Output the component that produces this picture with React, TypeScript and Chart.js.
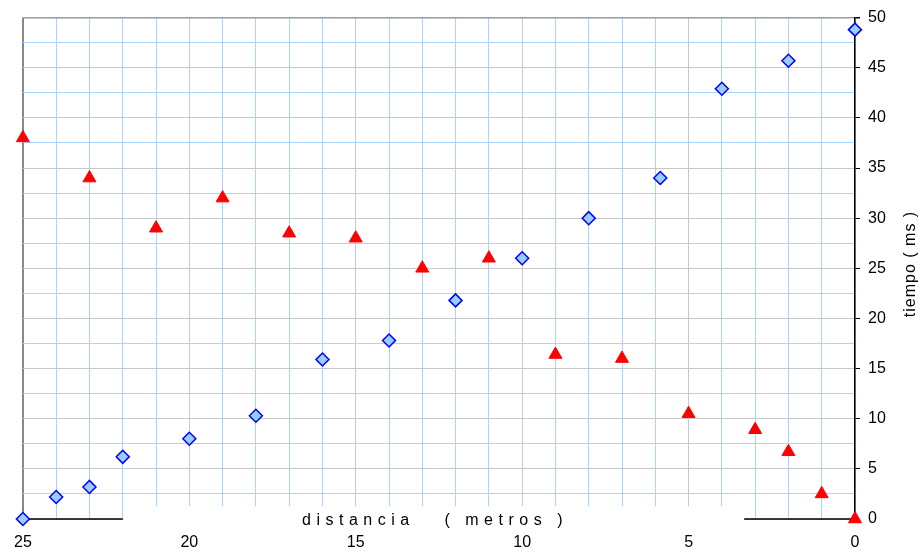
import React, { useEffect, useRef } from "react";
import { Chart, registerables } from "chart.js";

Chart.register(...registerables);

const blueX = [25, 24, 23, 22, 20, 18, 16, 14, 12, 10, 8, 5.85, 4, 2, 0];
const blueY = [0, 2.2, 3.2, 6.2, 8, 10.3, 15.9, 17.8, 21.8, 26, 30, 34, 42.9, 45.7, 48.8];
const redX = [25, 23, 21, 19, 17, 15, 13, 11, 9, 7, 5, 3, 2, 1, 0];
const redY = [38, 34, 29, 32, 28.5, 28, 25, 26, 16.4, 16, 10.5, 8.9, 6.7, 2.5, 0];

const xTitle = "distancia   ( metros )";
const yTitle = "tiempo ( ms )";
const FONT = "'Liberation Sans', Arial, sans-serif";

const decor = {
  id: "decor",
  beforeDatasetsDraw(chart: any) {
    const { ctx, chartArea, scales } = chart;
    const x = scales.x;
    const b = chartArea.bottom;
    const x1 = x.getPixelForValue(22);
    const x2 = x.getPixelForValue(3.33);
    ctx.save();
    ctx.fillStyle = "#ffffff";
    ctx.fillRect(x1 + 1, b - 13, x2 - x1 - 1, 16);
    ctx.strokeStyle = "#000000";
    ctx.lineWidth = 1.5;
    ctx.beginPath();
    ctx.moveTo(chartArea.left, b);
    ctx.lineTo(x1, b);
    ctx.moveTo(x2, b);
    ctx.lineTo(chartArea.right, b);
    ctx.stroke();
    ctx.restore();
  },
  afterDraw(chart: any) {
    const { ctx, chartArea } = chart;
    ctx.save();
    ctx.fillStyle = "#000000";
    ctx.font = `16px ${FONT}`;
    (ctx as any).letterSpacing = "5.5px";
    ctx.textAlign = "center";
    ctx.textBaseline = "alphabetic";
    ctx.fillText(xTitle, 435, chartArea.bottom + 6);
    (ctx as any).letterSpacing = "1px";
    ctx.translate(911, 264);
    ctx.rotate(-Math.PI / 2);
    ctx.textBaseline = "middle";
    ctx.font = `16px ${FONT}`;
    ctx.fillText(yTitle, 0, 0);
    ctx.restore();
  },
};

export default function App() {
  const ref = useRef<HTMLCanvasElement>(null);
  useEffect(() => {
    document.body.style.margin = "0";
    const canvas = ref.current!;
    const chart = new Chart(canvas, {
      type: "scatter",
      data: {
        datasets: [
          {
            label: "blue",
            data: blueX.map((x, i) => ({ x, y: blueY[i] })),
            pointStyle: "rectRot",
            pointRadius: 6.5,
            pointBackgroundColor: "#99ccff",
            pointBorderColor: "#0000ff",
            pointBorderWidth: 1.5,
            clip: false,
          },
          {
            label: "red",
            data: redX.map((x, i) => ({ x, y: redY[i] })),
            pointStyle: "triangle",
            pointRadius: 7.5,
            pointBackgroundColor: "#ff0000",
            pointBorderColor: "#ff0000",
            pointBorderWidth: 1,
            clip: false,
          },
        ],
      },
      options: {
        responsive: false,
        animation: false,
        layout: { padding: { left: 22, top: 17, right: 0, bottom: 0 } },
        plugins: { legend: { display: false }, tooltip: { enabled: false } },
        scales: {
          x: {
            type: "linear",
            min: 0,
            max: 25,
            reverse: true,
            afterFit: (s: any) => {
              s.height = 33;
            },
            border: { display: false },
            grid: {
              drawTicks: false,
              color: (c: any) => {
                const v = c.tick ? c.tick.value : 0;
                if (v === 25) return "#888888";
                return v % 5 === 0 ? "#c8c8c8" : "#a8d4ff";
              },
              lineWidth: (c: any) => (c.tick && c.tick.value === 25 ? 2 : 1),
            },
            ticks: {
              stepSize: 1,
              autoSkip: false,
              maxRotation: 0,
              padding: 14,
              color: "#000000",
              font: { family: FONT, size: 16 },
              callback: (v: any) => (Number(v) % 5 === 0 ? String(v) : ""),
            },
          },
          y: {
            type: "linear",
            position: "right",
            min: 0,
            max: 50,
            afterFit: (s: any) => {
              s.width = 68;
            },
            border: { display: true, color: "#000000", width: 1.5 },
            grid: {
              drawTicks: true,
              tickLength: 5,
              tickColor: (c: any) => (c.tick && c.tick.value % 5 === 0 ? "#000000" : "rgba(0,0,0,0)"),
              color: (c: any) => {
                const v = c.tick ? c.tick.value : 0;
                if (v === 50) return "#999999";
                return v % 5 === 0 ? "#c8c8c8" : "#a8d4ff";
              },
              lineWidth: (c: any) => (c.tick && c.tick.value === 50 ? 1.5 : 1),
            },
            ticks: {
              stepSize: 2.5,
              autoSkip: false,
              padding: 8,
              color: "#000000",
              font: { family: FONT, size: 16 },
              callback: (v: any) => (Number(v) % 5 === 0 ? String(v) : ""),
            },
          },
        },
      },
      plugins: [decor],
    });
    return () => chart.destroy();
  }, []);
  return (
    <div style={{ width: 923, height: 552 }}>
      <canvas ref={ref} width={923} height={552} style={{ display: "block" }} />
    </div>
  );
}
